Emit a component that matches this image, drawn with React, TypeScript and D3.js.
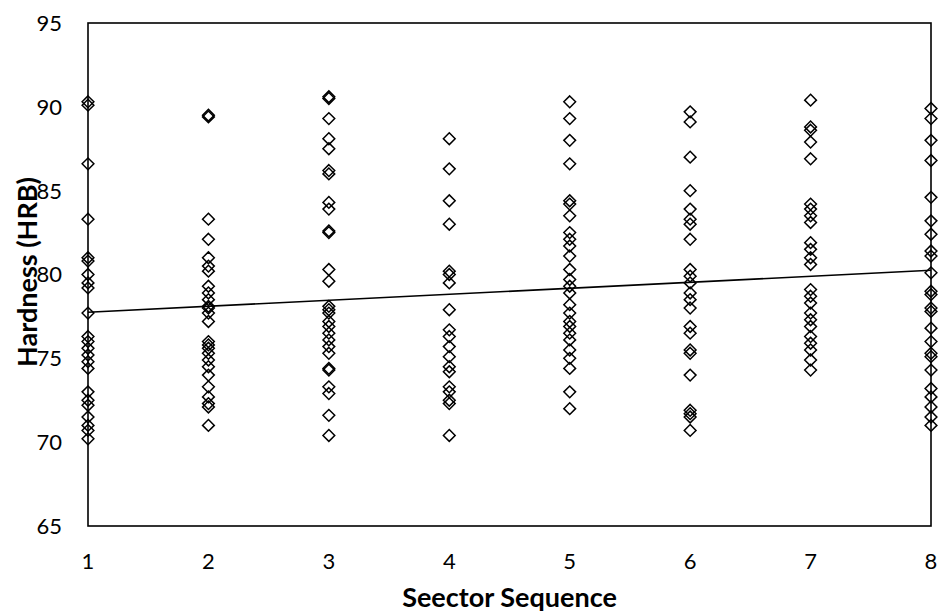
import React from "react";
import * as d3 from "d3";

const sectors = [1, 2, 3, 4, 5, 6, 7, 8];
const sector1 = [90.3, 90.1, 86.6, 83.3, 81.0, 80.8, 80.0, 79.5, 79.2, 77.7, 76.3, 76.0, 75.6, 75.2, 74.8, 74.4, 73.0, 72.5, 72.2, 71.5, 71.0, 70.7, 70.2];
const sector2 = [89.5, 89.4, 83.3, 82.1, 81.0, 80.5, 80.2, 79.3, 78.9, 78.5, 78.1, 78.0, 77.7, 77.2, 76.0, 75.8, 75.6, 75.3, 74.9, 74.5, 74.0, 73.3, 72.7, 72.3, 72.1, 71.0];
const sector3 = [90.6, 90.5, 89.3, 88.1, 87.5, 86.2, 86.0, 84.3, 83.9, 82.6, 82.5, 80.3, 79.6, 78.1, 77.9, 77.7, 77.2, 76.9, 76.5, 76.1, 75.7, 75.3, 74.4, 74.3, 73.3, 72.9, 71.6, 70.4];
const sector4 = [88.1, 86.3, 84.4, 83.0, 80.2, 80.0, 79.5, 77.9, 76.7, 76.3, 75.7, 75.1, 74.5, 74.2, 73.3, 73.0, 72.5, 72.3, 70.4];
const sector5 = [90.3, 89.3, 88.0, 86.6, 84.4, 84.2, 83.5, 82.5, 82.1, 81.7, 81.1, 80.3, 79.7, 79.3, 78.9, 78.2, 77.7, 77.2, 76.9, 76.5, 76.1, 75.5, 75.0, 74.4, 73.0, 72.0];
const sector6 = [89.7, 89.1, 87.0, 85.0, 83.9, 83.3, 83.0, 82.1, 80.3, 79.9, 79.5, 78.9, 78.5, 78.0, 76.9, 76.5, 75.5, 75.3, 74.0, 71.9, 71.7, 71.5, 70.7];
const sector7 = [90.4, 88.8, 88.6, 87.9, 86.9, 84.2, 83.9, 83.5, 83.1, 81.9, 81.5, 81.0, 80.6, 79.1, 78.7, 78.3, 77.7, 77.3, 76.9, 76.3, 75.9, 75.5, 74.9, 74.3];
const sector8 = [89.9, 89.3, 88.0, 86.8, 84.6, 83.2, 82.4, 81.4, 81.1, 80.1, 79.0, 78.8, 78.0, 77.8, 76.8, 76.0, 75.3, 75.1, 74.3, 73.2, 72.7, 72.1, 71.5, 71.0];
const sectorValues = [sector1, sector2, sector3, sector4, sector5, sector6, sector7, sector8];

const trendX = [1, 8];
const trendY = [77.75, 80.25];
const yTicks = [65, 70, 75, 80, 85, 90, 95];

const W = 947;
const H = 615;
const FONT = "Lato, 'Open Sans', sans-serif";

export default function App() {
  const x = d3.scaleLinear().domain([1, 8]).range([88, 931]);
  const y = d3.scaleLinear().domain([65, 95]).range([526, 23]);

  const points: { s: number; v: number }[] = [];
  sectors.forEach((s, i) => sectorValues[i].forEach((v) => points.push({ s, v })));

  const diamond = d3.symbol().type(d3.symbolDiamond2).size(88)();
  const line = d3
    .line<number>()
    .x((_, i) => x(trendX[i]))
    .y((d) => y(d));

  return (
    <svg
      width={W}
      height={H}
      style={{ position: "absolute", left: 0, top: 0, background: "#fff" }}
      fontFamily={FONT}
    >
      <rect x={0} y={0} width={W} height={H} fill="#fff" />
      <rect
        x={x(1)}
        y={y(95)}
        width={x(8) - x(1)}
        height={y(65) - y(95)}
        fill="none"
        stroke="#000"
        strokeWidth={1.6}
      />
      {yTicks.map((t) => (
        <text key={t} x={62} y={y(t)} dy="0.36em" textAnchor="end" fontSize={22} fill="#000">
          {t}
        </text>
      ))}
      {sectors.map((s) => (
        <text key={s} x={x(s)} y={y(65) + 43} textAnchor="middle" fontSize={22} fill="#000">
          {s}
        </text>
      ))}
      {points.map((p, i) => (
        <path
          key={i}
          d={diamond || ""}
          transform={`translate(${x(p.s)},${y(p.v)})`}
          fill="none"
          stroke="#000"
          strokeWidth={1.5}
        />
      ))}
      <path d={line(trendY) || ""} fill="none" stroke="#000" strokeWidth={1.6} />
      <text x={(x(1) + x(8)) / 2} y={607} textAnchor="middle" fontSize={27} fontWeight="bold" fill="#000">
        Seector Sequence
      </text>
      <text
        transform={`translate(37,272) rotate(-90)`}
        textAnchor="middle"
        fontSize={27}
        fontWeight="bold"
        fill="#000"
      >
        Hardness (HRB)
      </text>
    </svg>
  );
}
